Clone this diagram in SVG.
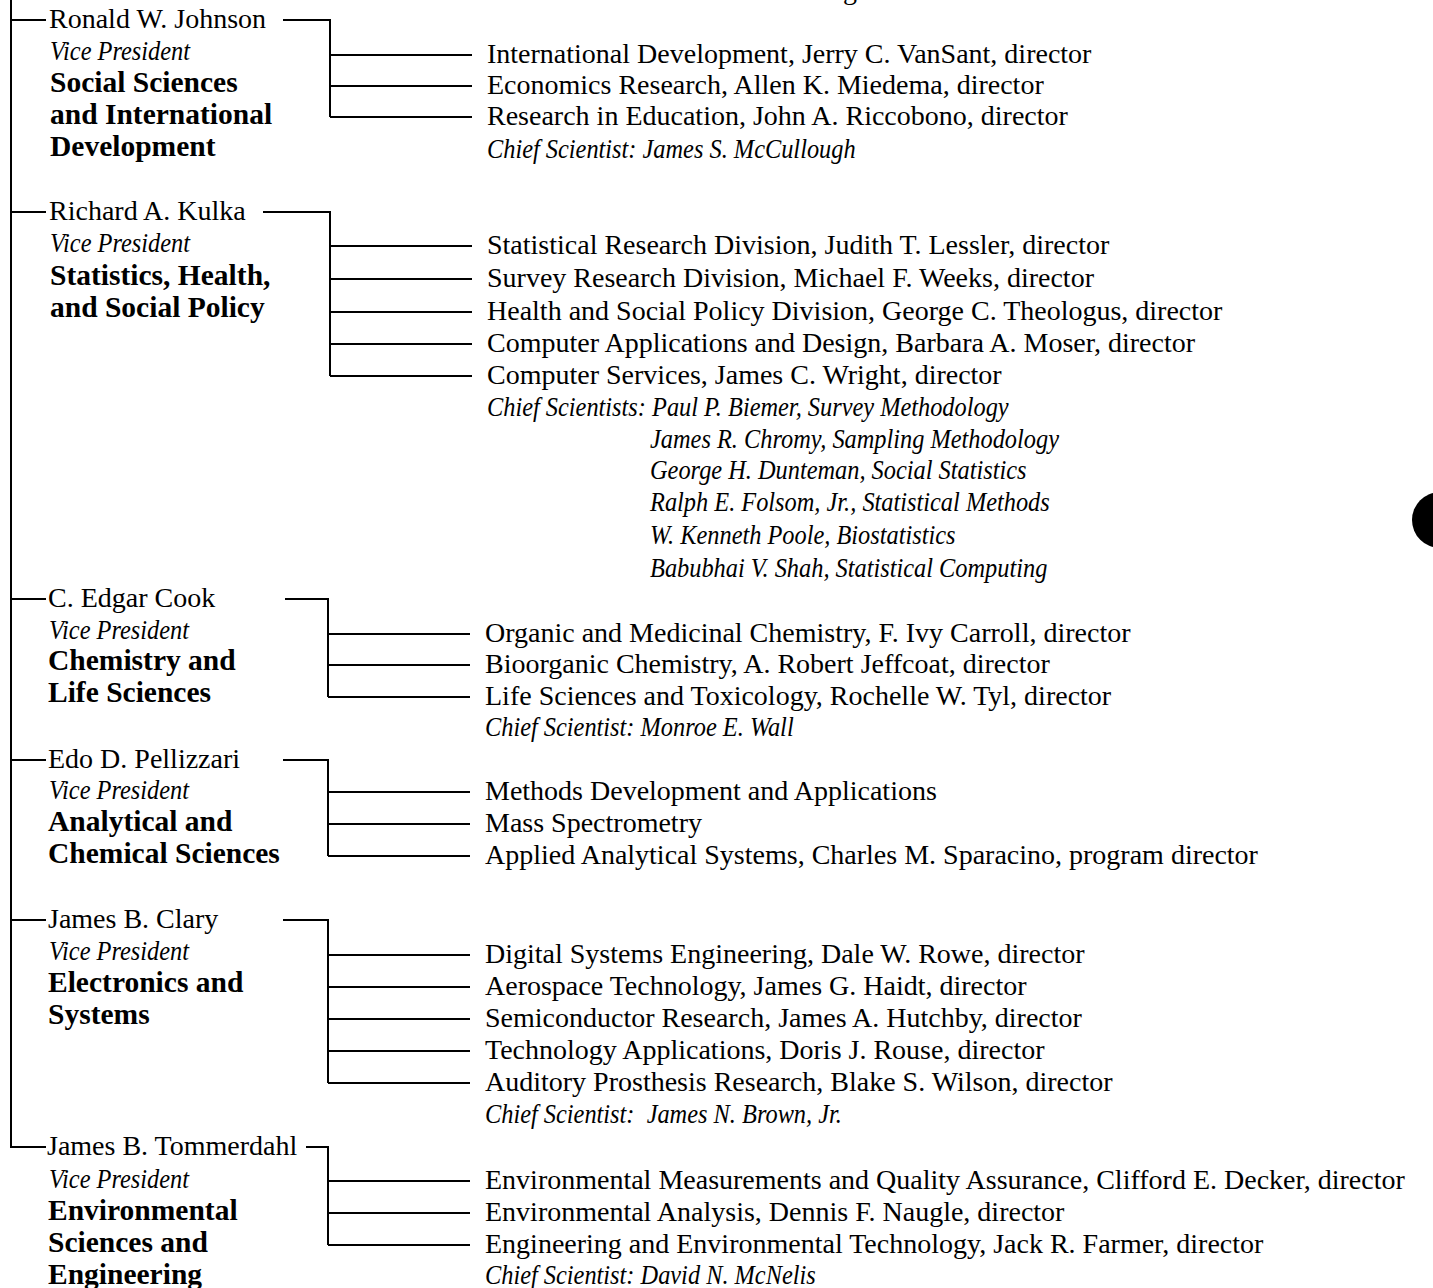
<svg xmlns="http://www.w3.org/2000/svg" width="1433" height="1288" viewBox="0 0 1433 1288">
<style>
text{font-family:"Liberation Serif","Times New Roman",serif;fill:#000}
.t{font-size:28px}
.m{font-size:29.5px;font-weight:600}
.i{font-size:28px;font-style:italic;white-space:pre}
.ln{stroke:#000;stroke-width:2;fill:none}
</style>
<rect width="1433" height="1288" fill="#fff"/>
<text class="t" x="843" y="-1">g</text>
<g id="connectors" class="ln">
<path d="M11,-5 V1147 H46"/>
<path d="M11,20 H46 M11,212 H46 M11,599 H46 M11,760 H46 M11,920 H46"/>
<path d="M283,20 H330 V117 M330,55 H472 M330,86 H472 M330,117 H472"/>
<path d="M263,212 H330 V376 M330,246 H472 M330,279 H472 M330,312 H472 M330,344 H472 M330,376 H472"/>
<path d="M285,599 H328 V697 M328,634 H470 M328,665 H470 M328,697 H470"/>
<path d="M283,760 H328 V856 M328,792 H470 M328,824 H470 M328,856 H470"/>
<path d="M283,920 H328 V1083 M328,955 H470 M328,987 H470 M328,1019 H470 M328,1051 H470 M328,1083 H470"/>
<path d="M306,1147 H328 V1245 M328,1181 H470 M328,1213 H470 M328,1245 H470"/>
</g>
<g id="vp-johnson">
<text class="t" x="49" y="28">Ronald W. Johnson</text>
<text class="i" transform="translate(50 60) scale(0.87 1)">Vice President</text>
<text class="m" x="50" y="92">Social Sciences</text>
<text class="m" x="50" y="124">and International</text>
<text class="m" x="50" y="156">Development</text>
</g>
<g id="units-johnson">
<text class="t" x="487" y="63">International Development, Jerry C. VanSant, director</text>
<text class="t" x="487" y="94">Economics Research, Allen K. Miedema, director</text>
<text class="t" x="487" y="125">Research in Education, John A. Riccobono, director</text>
<text class="i" transform="translate(487 158) scale(0.87 1)">Chief Scientist: James S. McCullough</text>
</g>
<g id="vp-kulka">
<text class="t" x="49" y="220">Richard A. Kulka</text>
<text class="i" transform="translate(50 252) scale(0.87 1)">Vice President</text>
<text class="m" x="50" y="285">Statistics, Health,</text>
<text class="m" x="50" y="317">and Social Policy</text>
</g>
<g id="units-kulka">
<text class="t" x="487" y="254">Statistical Research Division, Judith T. Lessler, director</text>
<text class="t" x="487" y="287">Survey Research Division, Michael F. Weeks, director</text>
<text class="t" x="487" y="320">Health and Social Policy Division, George C. Theologus, director</text>
<text class="t" x="487" y="352">Computer Applications and Design, Barbara A. Moser, director</text>
<text class="t" x="487" y="384">Computer Services, James C. Wright, director</text>
<text class="i" transform="translate(487 416) scale(0.87 1)">Chief Scientists: Paul P. Biemer, Survey Methodology</text>
<text class="i" transform="translate(650 448) scale(0.87 1)">James R. Chromy, Sampling Methodology</text>
<text class="i" transform="translate(650 479) scale(0.87 1)">George H. Dunteman, Social Statistics</text>
<text class="i" transform="translate(650 511) scale(0.87 1)">Ralph E. Folsom, Jr., Statistical Methods</text>
<text class="i" transform="translate(650 544) scale(0.87 1)">W. Kenneth Poole, Biostatistics</text>
<text class="i" transform="translate(650 577) scale(0.87 1)">Babubhai V. Shah, Statistical Computing</text>
</g>
<g id="vp-cook">
<text class="t" x="48" y="607">C. Edgar Cook</text>
<text class="i" transform="translate(49 639) scale(0.87 1)">Vice President</text>
<text class="m" x="48" y="670">Chemistry and</text>
<text class="m" x="48" y="702">Life Sciences</text>
</g>
<g id="units-cook">
<text class="t" x="485" y="642">Organic and Medicinal Chemistry, F. Ivy Carroll, director</text>
<text class="t" x="485" y="673">Bioorganic Chemistry, A. Robert Jeffcoat, director</text>
<text class="t" x="485" y="705">Life Sciences and Toxicology, Rochelle W. Tyl, director</text>
<text class="i" transform="translate(485 736) scale(0.87 1)">Chief Scientist: Monroe E. Wall</text>
</g>
<g id="vp-pellizzari">
<text class="t" x="48" y="768">Edo D. Pellizzari</text>
<text class="i" transform="translate(49 799) scale(0.87 1)">Vice President</text>
<text class="m" x="48" y="831">Analytical and</text>
<text class="m" x="48" y="863">Chemical Sciences</text>
</g>
<g id="units-pellizzari">
<text class="t" x="485" y="800">Methods Development and Applications</text>
<text class="t" x="485" y="832">Mass Spectrometry</text>
<text class="t" x="485" y="864">Applied Analytical Systems, Charles M. Sparacino, program director</text>
</g>
<g id="vp-clary">
<text class="t" x="48" y="928">James B. Clary</text>
<text class="i" transform="translate(49 960) scale(0.87 1)">Vice President</text>
<text class="m" x="48" y="992">Electronics and</text>
<text class="m" x="48" y="1024">Systems</text>
</g>
<g id="units-clary">
<text class="t" x="485" y="963">Digital Systems Engineering, Dale W. Rowe, director</text>
<text class="t" x="485" y="995">Aerospace Technology, James G. Haidt, director</text>
<text class="t" x="485" y="1027">Semiconductor Research, James A. Hutchby, director</text>
<text class="t" x="485" y="1059">Technology Applications, Doris J. Rouse, director</text>
<text class="t" x="485" y="1091">Auditory Prosthesis Research, Blake S. Wilson, director</text>
<text class="i" transform="translate(485 1123) scale(0.87 1)">Chief Scientist:  James N. Brown, Jr.</text>
</g>
<g id="vp-tommerdahl">
<text class="t" x="47" y="1155">James B. Tommerdahl</text>
<text class="i" transform="translate(49 1188) scale(0.87 1)">Vice President</text>
<text class="m" x="48" y="1220">Environmental</text>
<text class="m" x="48" y="1252">Sciences and</text>
<text class="m" x="48" y="1284">Engineering</text>
</g>
<g id="units-tommerdahl">
<text class="t" x="485" y="1189">Environmental Measurements and Quality Assurance, Clifford E. Decker, director</text>
<text class="t" x="485" y="1221">Environmental Analysis, Dennis F. Naugle, director</text>
<text class="t" x="485" y="1253">Engineering and Environmental Technology, Jack R. Farmer, director</text>
<text class="i" transform="translate(485 1284) scale(0.87 1)">Chief Scientist: David N. McNelis</text>
</g>
<circle cx="1440" cy="520" r="28" fill="#000"/>
</svg>
